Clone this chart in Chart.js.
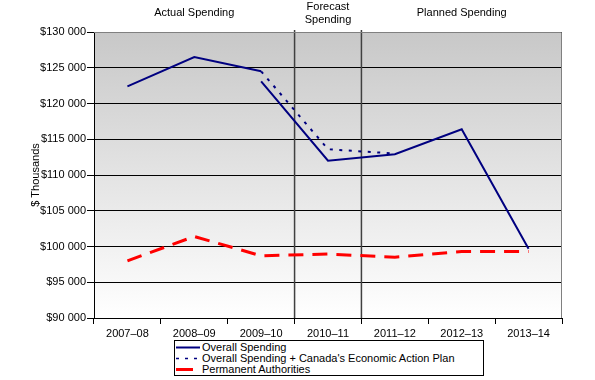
<!DOCTYPE html>
<html>
<head>
<meta charset="utf-8">
<script src="https://cdn.jsdelivr.net/npm/chart.js@4/dist/chart.umd.min.js"></script>
<style>
  body { margin: 0; background: #fff; }
  #wrap { position: relative; width: 595px; height: 380px; }
  #legend {
    position: absolute; left: 174px; top: 340px; width: 308px; height: 34px;
    border: 1px solid #000; background: #fff;
    font: 11px "Liberation Sans Narrow", "Liberation Sans", Arial, sans-serif; color: #000;
  }
  #legend div { position: absolute; left: 27px; height: 11px; line-height: 11px; white-space: nowrap; }
  #legend svg { position: absolute; left: -27px; top: 0; }
</style>
</head>
<body>
<div id="wrap">
  <canvas id="chart1" width="595" height="380"></canvas>
  <div id="legend">
    <div style="top:1px"><svg width="26" height="11"><line x1="1" y1="5.5" x2="25" y2="5.5" stroke="#000080" stroke-width="2"/></svg>Overall Spending</div>
    <div style="top:12px"><svg width="26" height="11"><line x1="1" y1="5.5" x2="25" y2="5.5" stroke="#000080" stroke-width="1.5" stroke-dasharray="3,6"/></svg>Overall Spending + Canada's Economic Action Plan</div>
    <div style="top:23px"><svg width="26" height="11"><line x1="1" y1="5.5" x2="18" y2="5.5" stroke="#ff0000" stroke-width="3"/></svg>Permanent Authorities</div>
  </div>
</div>
<script>
const FONT = "'Liberation Sans Narrow', 'Liberation Sans', Arial, sans-serif";

const categories = ["2007–08", "2008–09", "2009–10", "2010–11", "2011–12", "2012–13", "2013–14"];
const overallSpending = [122400, 126500, 124500, null, null, null, null];
const overallSpendingPlanned = [null, null, 123100, 112000, 112900, 116400, 99700];
const overallSpendingEAP = [null, null, 124500, 113600, 113000, null, null];
const permanentAuthorities = [98000, 101400, 98700, 98950, 98500, 99300, 99300];
const sections = [
  { text: ["Actual Spending"], from: 0, to: 2 },
  { text: ["Forecast", "Spending"], from: 3, to: 3 },
  { text: ["Planned Spending"], from: 4, to: 6 },
];

const decorations = {
  id: "decorations",
  beforeDraw(chart) {
    const { ctx, chartArea: a } = chart;
    const g = ctx.createLinearGradient(0, a.top, 0, a.bottom);
    g.addColorStop(0, "#c8c8c8");
    g.addColorStop(1, "#ffffff");
    ctx.save();
    ctx.fillStyle = g;
    ctx.fillRect(a.left, a.top, a.right - a.left, a.bottom - a.top);
    ctx.restore();
  },
  beforeDatasetsDraw(chart) {
    const { ctx, chartArea: a, scales } = chart;
    const x = scales.x;
    ctx.save();
    // separators between actual / forecast / planned
    ctx.strokeStyle = "#404040";
    ctx.lineWidth = 1.5;
    [2, 3].forEach((i) => {
      const px = (x.getPixelForValue(i) + x.getPixelForValue(i + 1)) / 2;
      ctx.beginPath();
      ctx.moveTo(px, a.top - 2);
      ctx.lineTo(px, a.bottom);
      ctx.stroke();
    });
    // gray frame top / right
    ctx.strokeStyle = "#808080";
    ctx.lineWidth = 1;
    ctx.beginPath();
    ctx.moveTo(a.left, a.top + 0.5);
    ctx.lineTo(a.right - 0.5, a.top + 0.5);
    ctx.lineTo(a.right - 0.5, a.bottom);
    ctx.stroke();
    ctx.restore();
  },
  afterDraw(chart) {
    const { ctx, chartArea: a, scales } = chart;
    const x = scales.x;
    ctx.save();
    ctx.fillStyle = "#000";
    ctx.font = "11px " + FONT;
    ctx.textAlign = "center";
    ctx.textBaseline = "middle";
    sections.forEach((s) => {
      const cx = (x.getPixelForValue(s.from) + x.getPixelForValue(s.to)) / 2;
      if (s.text.length === 1) {
        ctx.fillText(s.text[0], cx, 13);
      } else {
        ctx.fillText(s.text[0], cx, 7);
        ctx.fillText(s.text[1], cx, 20);
      }
    });
    ctx.translate(36, (a.top + a.bottom) / 2);
    ctx.rotate(-Math.PI / 2);
    ctx.fillText("$ Thousands", 0, 0);
    ctx.restore();
  },
};

const chart1 = document.getElementById("chart1").getContext("2d");

const spendingChart = new Chart(chart1, {
  type: "line",
  data: {
    labels: categories,
    datasets: [
      {
        label: "Permanent Authorities",
        data: permanentAuthorities,
        borderColor: "#ff0000",
        borderWidth: 3,
        borderDash: [15, 9],
      },
      {
        label: "Overall Spending + Canada's Economic Action Plan",
        data: overallSpendingEAP,
        borderColor: "#000080",
        borderWidth: 2,
        borderDash: [3, 6.5],
      },
      {
        label: "Overall Spending",
        data: overallSpending,
        borderColor: "#000080",
        borderWidth: 2,
      },
      {
        label: "Overall Spending (planned)",
        data: overallSpendingPlanned,
        borderColor: "#000080",
        borderWidth: 2,
      },
    ],
  },
  plugins: [decorations],
  options: {
    responsive: false,
    animation: false,
    spanGaps: false,
    elements: { point: { radius: 0 }, line: { tension: 0, fill: false } },
    layout: { padding: { top: 32, right: 33, left: 0, bottom: 0 } },
    plugins: { legend: { display: false }, tooltip: { enabled: false } },
    scales: {
      x: {
        offset: true,
        grid: { offset: true, drawOnChartArea: false, tickLength: 6, color: "#000" },
        border: { color: "#000" },
        ticks: { color: "#000", font: { family: FONT, size: 11 }, padding: 3, maxRotation: 0 },
        afterFit: (s) => { s.height = 62; },
      },
      y: {
        min: 90000,
        max: 130000,
        grid: { color: "#000", tickLength: 7 },
        border: { color: "#000" },
        ticks: {
          stepSize: 5000,
          color: "#000",
          padding: 1,
          font: { family: FONT, size: 11 },
          callback: (v) => "$" + v / 1000 + " 000",
        },
        afterFit: (s) => { s.width = 94; },
      },
    },
  },
});
</script>
</body>
</html>
